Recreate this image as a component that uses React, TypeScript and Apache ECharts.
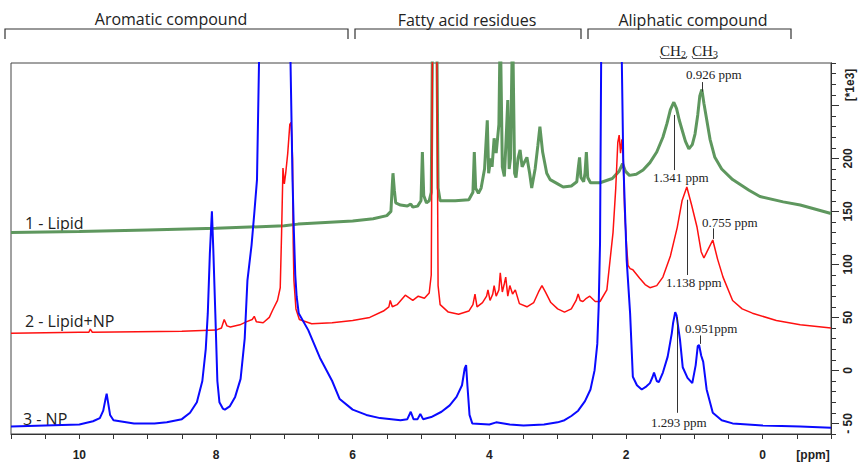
import React, { useEffect, useRef } from "react";
import * as echarts from "echarts";

// ---------- data (ppm, intensity *1e3) ----------
const lipid: number[][] = [
  [11.0,130],[10.0,131],[9.0,132.5],[8.0,134],[7.0,136.5],[6.8,138],[6.0,141],[5.7,143],[5.5,146],[5.44,150],[5.42,175],[5.41,186],[5.39,170],[5.37,158],[5.3,156],[5.2,155],[5.15,157],[5.12,154],[5.05,155],[5.0,160],[4.98,206],[4.96,165],[4.92,158],[4.88,160],[4.85,168],[4.83,330],[4.77,330],[4.75,172],[4.72,160],[4.5,160],[4.3,161],[4.24,168],[4.22,206],[4.2,172],[4.16,167],[4.12,172],[4.07,190],[4.03,236],[4.01,186],[3.98,200],[3.96,192],[3.93,219],[3.9,205],[3.86,232],[3.84,330],[3.81,192],[3.78,183],[3.76,210],[3.73,255],[3.71,190],[3.69,200],[3.66,330],[3.63,186],[3.61,182],[3.58,200],[3.55,208],[3.52,192],[3.49,196],[3.45,201],[3.41,186],[3.38,172],[3.33,190],[3.29,212],[3.26,230],[3.22,206],[3.16,186],[3.11,180],[3.0,176],[2.92,173],[2.8,174],[2.72,178],[2.7,190],[2.68,201],[2.66,182],[2.62,178],[2.6,186],[2.58,206],[2.56,182],[2.52,177],[2.38,177],[2.2,181],[2.1,188],[2.05,195],[2.01,188],[1.95,184],[1.85,185],[1.75,189],[1.65,196],[1.55,206],[1.46,220],[1.4,233],[1.35,246],[1.3,253],[1.26,247],[1.22,236],[1.18,227],[1.13,216],[1.08,209],[1.03,213],[0.99,223],[0.95,241],[0.92,259],[0.89,265],[0.86,252],[0.82,237],[0.77,218],[0.7,201],[0.6,190],[0.44,180],[0.2,170],[0.04,164],[-0.3,159],[-0.55,156],[-1.0,148]
];

const lipidNP: number[][] = [
  [11.0,35],[10.0,36],[9.86,36],[9.84,39],[9.81,36],[8.5,37],[8.0,38],[7.92,40],[7.88,48],[7.84,42],[7.79,41],[7.65,43],[7.55,46],[7.47,48],[7.44,51],[7.41,46],[7.31,45],[7.22,50],[7.17,57],[7.1,66],[7.06,78],[7.04,130],[7.02,191],[7.0,176],[6.98,186],[6.95,205],[6.92,232],[6.9,234],[6.88,200],[6.87,120],[6.86,85],[6.83,58],[6.78,48],[6.6,44],[6.3,45],[6.0,47],[5.75,50],[5.55,56],[5.47,60],[5.45,66],[5.42,60],[5.35,62],[5.23,71],[5.12,66],[5.04,70],[4.95,68],[4.88,73],[4.85,90],[4.83,330],[4.77,330],[4.75,80],[4.72,62],[4.6,55],[4.45,53],[4.3,56],[4.24,62],[4.21,72],[4.18,60],[4.1,64],[4.04,70],[4.02,76],[3.99,66],[3.95,72],[3.93,80],[3.9,70],[3.86,76],[3.84,92],[3.81,74],[3.78,82],[3.76,88],[3.73,70],[3.7,80],[3.66,72],[3.62,76],[3.56,63],[3.45,60],[3.35,64],[3.28,74],[3.23,80],[3.18,74],[3.1,64],[3.0,58],[2.9,55],[2.8,58],[2.73,66],[2.7,72],[2.67,66],[2.63,65],[2.58,68],[2.53,70],[2.45,65],[2.38,65],[2.28,76],[2.19,130],[2.15,172],[2.12,215],[2.1,222],[2.08,205],[2.06,218],[2.04,200],[2.02,150],[1.99,116],[1.97,99],[1.94,96],[1.9,95],[1.8,87],[1.72,81],[1.65,78],[1.55,80],[1.46,88],[1.35,108],[1.25,135],[1.18,160],[1.11,173],[1.04,156],[0.96,135],[0.9,112],[0.86,106],[0.8,114],[0.73,123],[0.66,105],[0.58,88],[0.44,66],[0.3,58],[0.15,54],[-0.2,47],[-0.55,43],[-1.0,40]
];

const np: number[][] = [
  [11.0,-53],[10.5,-52],[10.0,-51],[9.8,-48],[9.7,-45],[9.65,-38],[9.62,-28],[9.6,-22],[9.58,-30],[9.55,-42],[9.5,-47],[9.2,-50],[8.9,-50],[8.72,-49],[8.5,-46],[8.38,-40],[8.28,-30],[8.2,-10],[8.15,20],[8.12,54],[8.09,110],[8.06,150],[8.04,115],[8.01,54],[7.98,-10],[7.95,-30],[7.9,-36],[7.87,-37],[7.8,-34],[7.72,-25],[7.64,-8],[7.58,30],[7.54,85],[7.48,118],[7.44,148],[7.4,180],[7.36,330],[6.92,330],[6.88,180],[6.86,130],[6.84,90],[6.82,70],[6.79,54],[6.65,38],[6.48,12],[6.3,-10],[6.19,-27],[6.0,-37],[5.8,-42],[5.6,-45],[5.3,-47],[5.2,-46],[5.15,-39],[5.11,-46],[5.05,-46],[5.01,-41],[4.97,-46],[4.85,-44],[4.7,-39],[4.58,-33],[4.48,-25],[4.4,-14],[4.36,2],[4.34,5],[4.32,-15],[4.29,-42],[4.25,-50],[4.0,-51],[3.9,-49],[3.7,-51],[3.5,-52],[3.2,-51],[3.0,-49],[2.9,-47],[2.8,-43],[2.7,-38],[2.6,-29],[2.52,-18],[2.46,0],[2.42,25],[2.4,60],[2.38,120],[2.36,330],[2.07,330],[2.04,198],[1.99,104],[1.94,54],[1.9,-6],[1.84,-14],[1.77,-18],[1.7,-15],[1.65,-12],[1.61,-6],[1.59,-2],[1.55,-10],[1.52,-11],[1.46,-2],[1.39,13],[1.33,35],[1.31,45],[1.28,55],[1.26,52],[1.23,38],[1.21,29],[1.17,3],[1.1,-7],[1.03,-12],[0.98,5],[0.95,23],[0.93,24],[0.9,14],[0.87,8],[0.82,-18],[0.73,-40],[0.6,-47],[0.44,-50],[0.0,-52],[-0.55,-53],[-1.0,-54]
];

// leader lines from peak labels: [ppm, from, to]
const lipidLeaders: number[][] = [[1.30, 241, 189], [0.89, 272, 263]];
const lipidNPLeaders: number[][] = [[1.11, 161, 90], [0.73, 134, 124]];
const npLeaders: number[][] = [[1.25, 50, -40], [0.92, 33, 25]];

const seriesNames = ["1 - Lipid", "2 - Lipid+NP", "3 - NP"];
const peakLabels = ["0.926 ppm", "1.341 ppm", "0.755 ppm", "1.138 ppm", "0.951ppm", "1.293 ppm"];
const regionLabels = ["Aromatic compound", "Fatty acid residues", "Aliphatic compound"];
const xTickLabels = [0, 2, 4, 6, 8, 10];
const yMajor = [-50, 0, 50, 100, 150, 200, 250];
const yLabelValues = [-50, 0, 50, 100, 150, 200];

const SANS = "'Open Sans', sans-serif";
const SERIF = "'Liberation Serif', 'Times New Roman', serif";
const AX = "'Liberation Sans', Arial, sans-serif";

function leaders(list: number[][]) {
  return list.map(([p, a, b]) => [{ coord: [p, a] }, { coord: [p, b] }]);
}

export default function App() {
  const ref = useRef<HTMLDivElement>(null);
  useEffect(() => {
    if (!ref.current) return;
    const chart = echarts.init(ref.current, undefined, { renderer: "svg" });

    const txt = (text: string, x: number, y: number, font: string, size: number, align = "left", extra: any = {}) => ({
      type: "text", x, y, silent: true,
      style: { text, fontFamily: font, fontSize: size, fill: "#222", textAlign: align, textVerticalAlign: "middle", ...extra },
    });
    const bracket = (pts: number[][]) => ({
      type: "polyline", silent: true, shape: { points: pts },
      style: { stroke: "#333", lineWidth: 1.2, fill: "none" },
    });

    const graphics: any[] = [
      txt(regionLabels[0], 171, 18.5, SANS, 16, "center"),
      txt(regionLabels[1], 467, 19.5, SANS, 16, "center"),
      txt(regionLabels[2], 693, 20, SANS, 16, "center"),
      bracket([[5, 39], [5, 29], [348, 29], [348, 39]]),
      bracket([[355, 39], [355, 29], [581, 29], [581, 39]]),
      bracket([[588, 39], [588, 29], [791, 29], [791, 39]]),
      txt("CH", 660, 51, SERIF, 15, "left"),
      txt("2", 681, 54, SERIF, 10, "left"),
      txt("CH", 692, 51, SERIF, 15, "left"),
      txt("3", 713, 54, SERIF, 10, "left"),
      { type: "polyline", silent: true, shape: { points: [[660, 56], [661, 58.5], [686, 58.5], [687, 56]] }, style: { stroke: "#555", lineWidth: 1, fill: "none" } },
      { type: "polyline", silent: true, shape: { points: [[692, 56], [693, 58.5], [716, 58.5], [717, 56]] }, style: { stroke: "#555", lineWidth: 1, fill: "none" } },
      txt(seriesNames[0], 25, 222.5, SANS, 16),
      txt(seriesNames[1], 25, 321, SANS, 16),
      txt(seriesNames[2], 23, 419, SANS, 16),
      txt(peakLabels[0], 686, 74.5, SERIF, 13),
      txt(peakLabels[1], 653, 177.5, SERIF, 13),
      txt(peakLabels[2], 702, 222.5, SERIF, 13),
      txt(peakLabels[3], 666, 282.5, SERIF, 13),
      txt(peakLabels[4], 685, 328.5, SERIF, 13),
      txt(peakLabels[5], 651, 422.5, SERIF, 13),
      txt("[ppm]", 813, 455, AX, 12, "center", { fontWeight: "bold" }),
      { type: "text", x: 850, y: 85, rotation: Math.PI / 2, silent: true,
        style: { text: "[*1e3]", fontFamily: AX, fontSize: 12, fontWeight: "bold", fill: "#222", textAlign: "center", textVerticalAlign: "middle" } },
    ];

    const mk = (name: string, data: number[][], color: string, width: number, lead: number[][], z: number) => ({
      name, type: "line", data, showSymbol: false, symbol: "none", z,
      xAxisIndex: 0, yAxisIndex: 0,
      lineStyle: { color, width }, itemStyle: { color },
      markLine: {
        silent: true, symbol: ["none", "none"], label: { show: false },
        lineStyle: { color: "#333", width: 1, type: "solid" },
        data: leaders(lead),
      },
    });

    chart.setOption({
      animation: false,
      grid: { left: 11, right: 27, top: 63, bottom: 30, show: true, borderColor: "#444", borderWidth: 1 },
      xAxis: {
        type: "value", inverse: true, min: -1, max: 11, interval: 0.5,
        axisLine: { show: true, onZero: false, lineStyle: { color: "#333" } },
        axisTick: { show: true, length: 5, lineStyle: { color: "#333" } },
        axisLabel: {
          margin: 15, fontFamily: AX, fontSize: 12, fontWeight: "bold", color: "#222",
          formatter: (v: number) => (xTickLabels.some((t) => Math.abs(t - v) < 1e-6) ? String(Math.round(v)) : ""),
        },
        splitLine: { show: false },
      },
      yAxis: [
        {
          type: "value", position: "right", min: -60, max: 290, interval: 10,
          axisLine: { show: true, onZero: false, lineStyle: { color: "#333" } },
          axisTick: { show: true, length: 5, lineStyle: { color: "#333" } },
          axisLabel: { show: false },
          splitLine: { show: false },
        },
        {
          type: "value", position: "right", min: -60, max: 290,
          axisLine: { show: true, onZero: false, lineStyle: { color: "#333" } },
          axisTick: { show: true, length: 8, customValues: yMajor, lineStyle: { color: "#333" } },
          axisLabel: {
            show: true, customValues: yLabelValues, rotate: 90, margin: 11,
            fontFamily: AX, fontSize: 12, fontWeight: "bold", color: "#222",
            formatter: (v: number) => (v < 0 ? "- " + Math.abs(v) : String(v)),
          },
          splitLine: { show: false },
        },
      ],
      series: [
        mk(seriesNames[0], lipid, "#5e975e", 3, lipidLeaders, 2),
        mk(seriesNames[1], lipidNP, "#ff1010", 1.5, lipidNPLeaders, 3),
        mk(seriesNames[2], np, "#0a0aff", 2, npLeaders, 4),
      ],
      graphic: { elements: graphics },
    });
    return () => chart.dispose();
  }, []);
  return <div ref={ref} style={{ position: "absolute", left: 0, top: 0, width: 858, height: 464 }} />;
}
